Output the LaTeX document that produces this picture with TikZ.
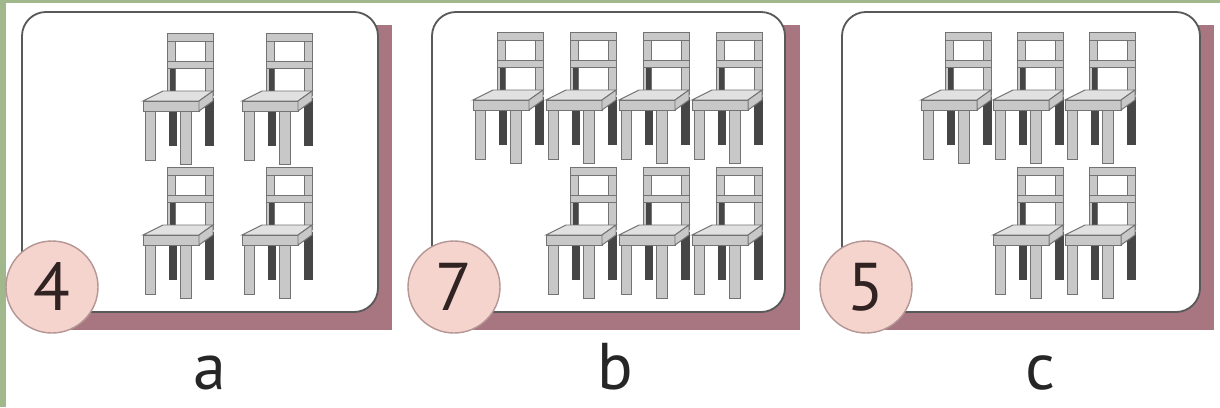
\documentclass[tikz,border=0pt]{standalone}
\usepackage{fontspec}
\setmainfont{PT Sans}
\definecolor{framegreen}{RGB}{160,184,140}
\definecolor{shadowmauve}{RGB}{168,118,128}
\definecolor{badgepink}{RGB}{246,212,206}
\definecolor{badgeedge}{RGB}{180,150,148}
\definecolor{digitbrown}{RGB}{50,35,35}
\definecolor{chairlight}{RGB}{200,200,200}
\definecolor{chairedge}{RGB}{115,115,115}
\definecolor{chairdark}{RGB}{70,70,70}
\tikzset{
  panelbox/.style={draw=black!65, line width=1.3pt, fill=white, rounded corners=6mm},
  panelshadow/.style={fill=shadowmauve},
  badge/.style={circle, draw=badgeedge, line width=1pt, fill=badgepink, minimum size=23mm,
    inner sep=0pt, text=digitbrown, font=\fontsize{48}{48}\selectfont},
  tag/.style={anchor=base, inner sep=0pt, text depth=0pt, text=black!85, font=\fontsize{47}{47}\selectfont},
  chair/.pic={
    \begin{scope}[line width=.7pt]
      \filldraw[fill=chairdark, draw=chairdark] (26,78) rectangle (33,112);
      \filldraw[fill=chairdark, draw=chairdark] (62,65) rectangle (70,112);
      \filldraw[fill=chairlight, draw=chairedge] (24,0) rectangle (32,60);
      \filldraw[fill=chairlight, draw=chairedge] (62,0) rectangle (70,62);
      \fill[chairdark] (27,35) rectangle (32,58);
      \filldraw[fill=chairlight, draw=chairedge] (24,0) rectangle (70,8);
      \filldraw[fill=chairlight, draw=chairedge] (24,28) rectangle (70,35);
      \filldraw[fill=chairlight!55, draw=chairedge] (0,68) -- (20,58) -- (70,58) -- (56,68) -- cycle;
      \filldraw[fill=chairlight, draw=chairedge] (0,68) rectangle (56,78);
      \filldraw[fill=chairlight, draw=chairedge] (56,68) -- (70,58) -- (70,68) -- (56,78) -- cycle;
      \filldraw[fill=chairlight, draw=chairedge] (2,78) rectangle (12,127);
      \filldraw[fill=chairlight, draw=chairedge] (37,78) rectangle (48,131);
    \end{scope}
  }
}
\begin{document}
\begin{tikzpicture}[x=.25mm, y=-.25mm]
	\useasboundingbox (0,0) rectangle (1220,407);
	% green page edge
	\fill[framegreen] (0,0) rectangle (6,407);
	\fill[framegreen] (0,0) rectangle (1220,3);
	% panel a
	\fill[panelshadow] (36,25) rectangle (392,330);
	\draw[panelbox] (22,12) rectangle (378,312);
	\foreach \x in {143,242}
		\foreach \y in {33,167}
			\pic at (\x,\y) {chair};
	\node[badge] (na) at (52,287) {4};
	\node[tag] (la) at (210,389) {a};
	% panel b
	\fill[panelshadow] (446,25) rectangle (800,330);
	\draw[panelbox] (432,12) rectangle (785,312);
	\foreach \x in {473,546,619,692}
		\pic at (\x,32) {chair};
	\foreach \x in {546,619,692}
		\pic at (\x,167) {chair};
	\node[badge] (nb) at (454,287) {7};
	\node[tag] (lb) at (615,389) {b};
	% panel c
	\fill[panelshadow] (856,25) rectangle (1214,330);
	\draw[panelbox] (842,12) rectangle (1200,312);
	\foreach \x in {921,993,1065}
		\pic at (\x,32) {chair};
	\foreach \x in {993,1065}
		\pic at (\x,167) {chair};
	\node[badge] (nc) at (866,287) {5};
	\node[tag] (lc) at (1040,389) {c};
\end{tikzpicture}
\end{document}
